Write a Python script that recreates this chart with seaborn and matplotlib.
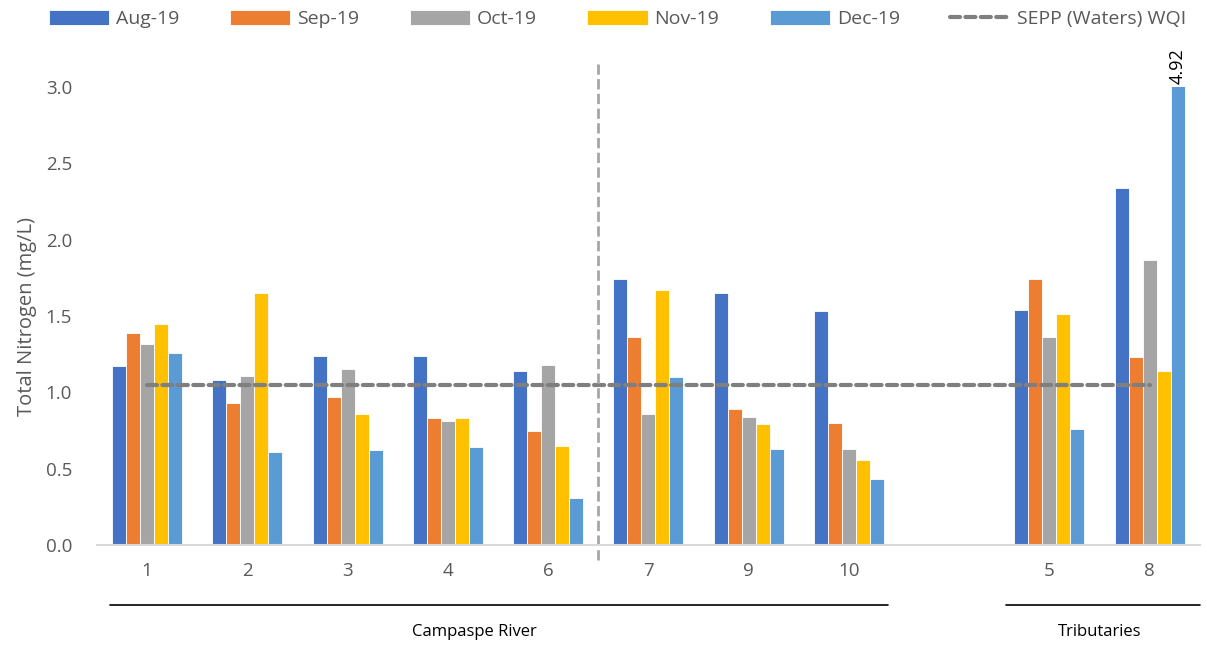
import numpy as np
import pandas as pd
import matplotlib.pyplot as plt
import seaborn as sns

# Chart data
sites = ["1", "2", "3", "4", "6", "7", "9", "10", "5", "8"]
order = ["1", "2", "3", "4", "6", "7", "9", "10", " ", "5", "8"]
months = ["Aug-19", "Sep-19", "Oct-19", "Nov-19", "Dec-19"]
aug = [1.17, 1.08, 1.24, 1.24, 1.14, 1.74, 1.65, 1.53, 1.54, 2.34]
sep = [1.39, 0.93, 0.97, 0.83, 0.75, 1.36, 0.89, 0.80, 1.74, 1.23]
oct_ = [1.32, 1.11, 1.15, 0.81, 1.18, 0.86, 0.84, 0.63, 1.36, 1.87]
nov = [1.45, 1.65, 0.86, 0.83, 0.65, 1.67, 0.79, 0.56, 1.51, 1.14]
dec = [1.26, 0.61, 0.62, 0.64, 0.31, 1.10, 0.63, 0.43, 0.76, 4.92]
wqi = 1.05
colors = ["#4472C4", "#ED7D31", "#A5A5A5", "#FFC000", "#5B9BD5"]

rows = []
for m, vals in zip(months, [aug, sep, oct_, nov, dec]):
    for s, v in zip(sites, vals):
        rows.append({"site": s, "month": m, "tn": v})
df = pd.DataFrame(rows)

sns.set_style("white")
plt.rcParams["font.family"] = ["Open Sans", "DejaVu Sans"]
grey = "#595959"

fig = plt.figure(figsize=(12.07, 6.46), dpi=100)
ax = fig.add_axes([0.0804, 0.1563, 0.9136, 0.709])

sns.barplot(data=df, x="site", y="tn", hue="month", order=order,
            hue_order=months, palette=colors, saturation=1, width=0.7,
            edgecolor="white", linewidth=0.6, ax=ax, errorbar=None)

# guideline value across all sites
ax.plot(range(len(order)), [wqi] * len(order), ls=(0, (2.4, 1.3)), lw=3,
        color="#7f7f7f", label="SEPP (Waters) WQI", dash_capstyle="round")

ax.set_ylim(0, 3.0)
ax.set_xlim(-0.5, len(order) - 0.5)
ticks = np.arange(0, 3.01, 0.5)
ax.set_yticks(ticks)
ax.set_yticklabels([f"{t:.1f}" for t in ticks])
ax.tick_params(axis="both", colors=grey, labelsize=13.5, length=0)
ax.tick_params(axis="x", pad=12)
ax.tick_params(axis="y", pad=18)
ax.set_xlabel("")
ax.set_ylabel("Total Nitrogen (mg/L)", fontsize=14.5, color=grey, labelpad=6)
for sp in ["top", "right", "left"]:
    ax.spines[sp].set_visible(False)
ax.spines["bottom"].set_color("#d9d9d9")
ax.spines["bottom"].set_linewidth(1.5)

# label for the clipped bar
for cont in ax.containers:
    for bar, val in zip(cont.patches, cont.datavalues):
        if val > 3.0:
            ax.text(bar.get_x() + bar.get_width() / 2, 3.02, f"{val:.2f}",
                    rotation=90, ha="center", va="bottom", fontsize=13,
                    color="black")

# divider between upper and lower river sites
ax.plot([4.5, 4.5], [-0.1, 3.15], ls="--", lw=2, color="#a6a6a6",
        clip_on=False)

# group brackets
tr = ax.get_xaxis_transform()
ax.plot([-0.37, 7.39], [-0.131, -0.131], color="black", lw=1.2,
        transform=tr, clip_on=False)
ax.plot([8.57, 10.5], [-0.131, -0.131], color="black", lw=1.2,
        transform=tr, clip_on=False)
ax.text(3.26, -0.19, "Campaspe River", transform=tr, ha="center",
        va="center", fontsize=12, color="black")
ax.text(9.5, -0.19, "Tributaries", transform=tr, ha="center",
        va="center", fontsize=12, color="black")

handles, labels = ax.get_legend_handles_labels()
ax.legend_.remove()
fig.legend(handles, labels, loc="upper center", ncol=6, frameon=False,
           bbox_to_anchor=(0.512, 1.012), fontsize=14, handlelength=3.1,
           handleheight=0.8, handletextpad=0.35, columnspacing=2.6,
           labelcolor=grey)

fig.savefig("out.png", dpi=100)
